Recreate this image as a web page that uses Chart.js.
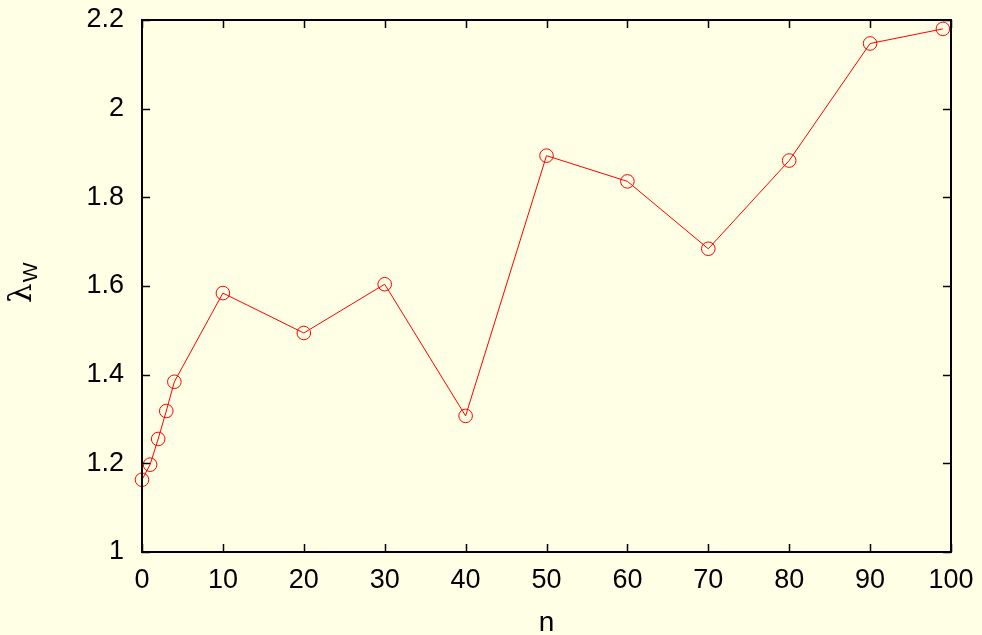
<!DOCTYPE html>
<html>
<head>
<meta charset="utf-8">
<title>λ_W vs n</title>
<script src="https://cdn.jsdelivr.net/npm/chart.js@4.4.1/dist/chart.umd.min.js"></script>
<style>
  html, body { margin: 0; padding: 0; background: #FFFFE5; }
  canvas { display: block; }
</style>
</head>
<body>
<canvas id="chart" width="982" height="635"></canvas>
<script>
// Measured growth exponent λ_W as a function of n
const nValues = [0, 1, 2, 3, 4, 10, 20, 30, 40, 50, 60, 70, 80, 90, 99];
const lambdaW = [1.163, 1.197, 1.255, 1.318, 1.384, 1.584, 1.494, 1.604, 1.307, 1.894, 1.836, 1.684, 1.883, 2.147, 2.180];

const xTicks = [0, 10, 20, 30, 40, 50, 60, 70, 80, 90, 100];
const yTicks = [1, 1.2, 1.4, 1.6, 1.8, 2, 2.2];
const xTitle = 'n';
const yTitleMain = 'λ';
const yTitleSub = 'W';

const BG = '#FFFFE5';
const FONT = '"Liberation Sans", Arial, Helvetica, sans-serif';

// Paper background
const background = {
  id: 'background',
  beforeDraw(chart) {
    const c = chart.ctx;
    c.save();
    c.fillStyle = BG;
    c.fillRect(0, 0, chart.width, chart.height);
    c.restore();
  }
};

// Frame around the plot with inward ticks mirrored on all four sides
const frame = {
  id: 'frame',
  afterDraw(chart) {
    const c = chart.ctx;
    const a = chart.chartArea;
    const xs = chart.scales.x, ys = chart.scales.y;
    const len = 8;
    c.save();
    c.strokeStyle = '#000';
    c.lineWidth = 1.5;
    c.beginPath();
    xTicks.forEach(v => {
      const px = Math.round(xs.getPixelForValue(v)) + 0.5;
      c.moveTo(px, a.bottom); c.lineTo(px, a.bottom - len);
      c.moveTo(px, a.top); c.lineTo(px, a.top + len);
    });
    yTicks.forEach(v => {
      const py = Math.round(ys.getPixelForValue(v)) + 0.5;
      c.moveTo(a.left, py); c.lineTo(a.left + len, py);
      c.moveTo(a.right, py); c.lineTo(a.right - len, py);
    });
    c.stroke();
    c.lineWidth = 2;
    c.strokeRect(a.left, a.top, a.right - a.left, a.bottom - a.top);

    // Axis titles
    c.fillStyle = '#000';
    c.textBaseline = 'alphabetic';
    c.textAlign = 'center';
    c.font = '28px ' + FONT;
    c.fillText(xTitle, (a.left + a.right) / 2, 631);

    c.translate(31, 303);
    c.rotate(-Math.PI / 2);
    c.textAlign = 'left';
    c.font = '31px "DejaVu Serif", "Liberation Serif", serif';
    c.fillText(yTitleMain, 0, 0);
    const w = c.measureText(yTitleMain).width;
    c.font = '21px ' + FONT;
    c.fillText(yTitleSub, w + 1, 6);
    c.restore();
  }
};

const points = nValues.map((n, i) => ({ x: n, y: lambdaW[i] }));

new Chart(document.getElementById('chart'), {
  type: 'line',
  data: {
    datasets: [{
      data: points,
      borderColor: '#FF0000',
      borderWidth: 1,
      backgroundColor: 'rgba(0,0,0,0)',
      pointStyle: 'circle',
      pointRadius: 6.8,
      pointBorderWidth: 1,
      pointBorderColor: '#FF0000',
      pointBackgroundColor: 'rgba(0,0,0,0)',
      tension: 0,
      clip: false
    }]
  },
  options: {
    responsive: false,
    animation: false,
    devicePixelRatio: 1,
    layout: { padding: { left: 0, right: 31, top: 20, bottom: 0 } },
    plugins: { legend: { display: false }, tooltip: { enabled: false } },
    scales: {
      x: {
        type: 'linear',
        min: 0, max: 100,
        afterBuildTicks(s) { s.ticks = xTicks.map(v => ({ value: v })); },
        afterFit(s) { s.height = 83; s.paddingLeft = 0; s.paddingRight = 0; },
        grid: { display: false, drawTicks: false },
        border: { display: false },
        ticks: {
          color: '#000',
          font: { family: FONT, size: 27 },
          padding: 12,
          maxRotation: 0,
          autoSkip: false,
          callback: v => String(v)
        }
      },
      y: {
        type: 'linear',
        min: 1, max: 2.2,
        afterBuildTicks(s) { s.ticks = yTicks.map(v => ({ value: v })); },
        afterFit(s) { s.width = 142; s.paddingTop = 0; s.paddingBottom = 0; },
        grid: { display: false, drawTicks: false },
        border: { display: false },
        ticks: {
          color: '#000',
          font: { family: FONT, size: 27 },
          padding: 18,
          autoSkip: false,
          callback: v => String(Math.round(v * 10) / 10)
        }
      }
    }
  },
  plugins: [background, frame]
});
</script>
</body>
</html>
